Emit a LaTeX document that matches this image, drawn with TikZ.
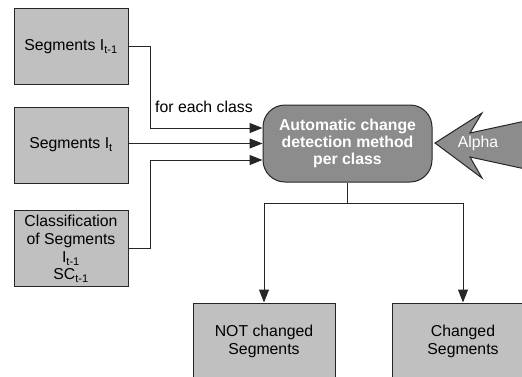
\documentclass[tikz,border=0pt]{standalone}
\usepackage{fontspec}
\setmainfont{Liberation Sans}
\usetikzlibrary{arrows.meta,positioning}
\definecolor{boxgray}{HTML}{C0C0C0}
\definecolor{methodgray}{HTML}{8C8C8C}
\definecolor{linegray}{HTML}{262626}

\tikzset{
  segbox/.style={rectangle,draw=linegray,fill=boxgray,line width=1pt,minimum width=114pt,minimum height=76pt,align=center,inner sep=0pt,font=\fontsize{15.8}{18}\selectfont},
  methodbox/.style={rectangle,rounded corners=22pt,draw=linegray,fill=methodgray,line width=1pt,minimum width=169pt,minimum height=77pt,align=center,inner sep=0pt,text=white,font=\fontsize{15.8}{17}\selectfont\bfseries},
  conn/.style={draw=linegray,line width=1pt,-{Triangle[length=13pt,width=10pt]}},
  plain/.style={draw=linegray,line width=1pt}
}

\begin{document}
\begin{tikzpicture}[x=1pt,y=-1pt]
\useasboundingbox (0,0) rectangle (522,376);
\clip (0,0) rectangle (522,376);
% input boxes
\node at (71,46.5)[segbox](b1){Segments I\textsubscript{t-1}};
\node at (71,145)[segbox](b2){Segments I\textsubscript{t}};
\node at (71,248.5)[segbox](b3){Classification\\of Segments\\I\textsubscript{t-1}\\[-1pt]SC\textsubscript{t-1}};
% method
\node at (347.5,143.5)[methodbox](rb){Automatic change\\detection method\\per class};
% alpha arrow
\draw[draw=linegray,fill=methodgray,line width=1pt] (435,143) -- (482,113) -- (470,133) -- (530,120) -- (530,170) -- (470,157) -- (482,178) -- cycle;
\node at (478,143)[text=white,font=\fontsize{15.8}{18}\selectfont](alpha){Alpha};
% results
\node at (264,341)[segbox,minimum width=142pt](nc){NOT changed\\Segments};
\node at (463,341)[segbox,minimum width=142pt](ch){Changed\\Segments};
% connectors
\node at (155,107)[anchor=west,inner sep=0pt,font=\fontsize{15.8}{18}\selectfont](fec){for each class};
\draw[conn] (b1.east) -- ++(22,0) |- ([yshift=15.5pt]rb.west);
\draw[conn] (b2.east |- rb.west) -- (rb.west);
\draw[conn] (b3.east) -- ++(22,0) |- ([yshift=-16.5pt]rb.west);
\draw[plain] (rb.south) -- ++(0,21) coordinate (split);
\draw[conn] (split) -| (nc.north);
\draw[conn] (split) -| (ch.north);
\end{tikzpicture}
\end{document}
